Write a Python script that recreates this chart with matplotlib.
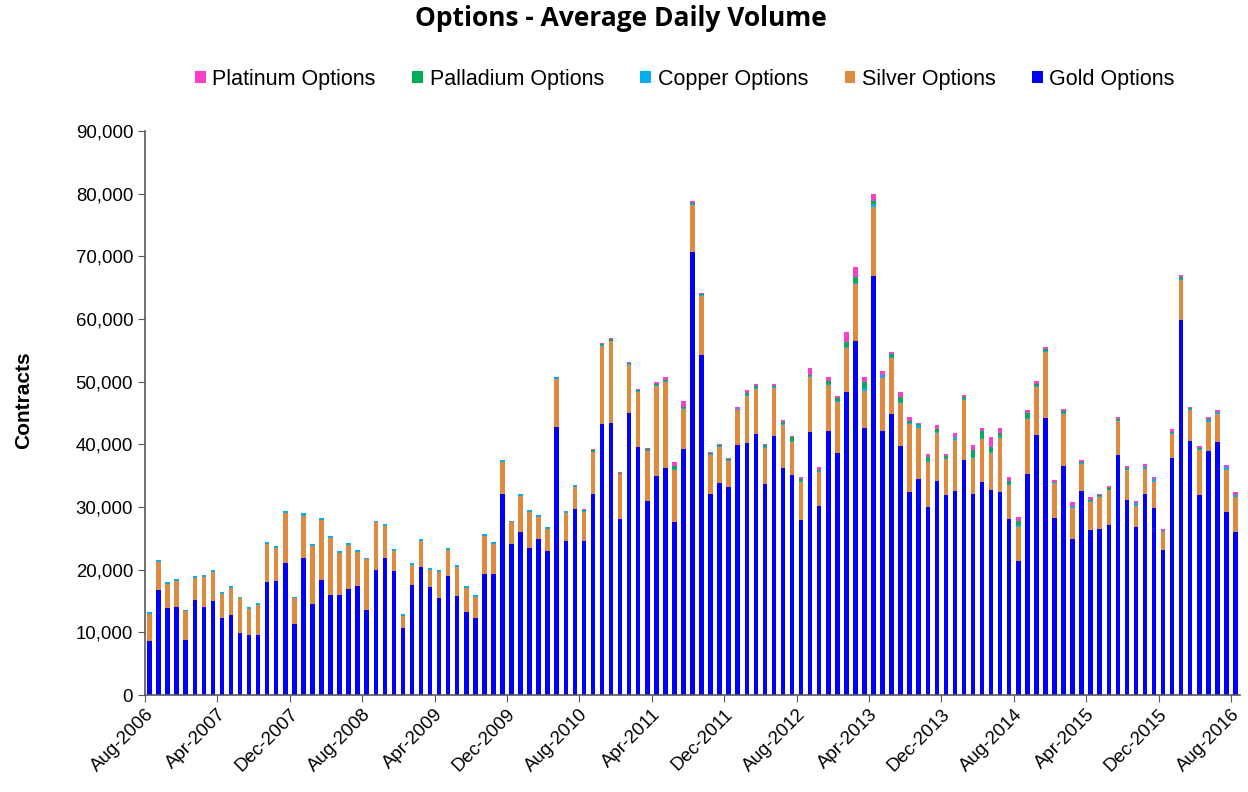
import matplotlib
matplotlib.use("Agg")
import matplotlib.pyplot as plt
import numpy as np
import pandas as pd
from matplotlib.ticker import StrMethodFormatter

# monthly average daily volume, Aug-2006 .. Aug-2016 (121 months)
months = pd.date_range("2006-08-01", "2016-08-01", freq="MS")
month_labels = [m.strftime("%b-%Y") for m in months]

gold = [
    8560, 16700, 13940, 14100, 8780, 15210, 14100, 15000, 12230, 12770,
    9950, 9630, 9630, 18080, 18240, 21060, 11380, 21910, 14470, 18400,
    16010, 16010, 16910, 17450, 13620, 20000, 21910, 19840, 10640, 17610,
    20480, 17230, 15530, 18940, 15850, 13300, 12340, 19360, 19360, 32130,
    24150, 26060, 23510, 24840, 22980, 42820, 24630, 29730, 24630, 32130,
    43190, 43400, 28140, 44950, 39630, 30900, 34890, 36280, 27660, 39200,
    70740, 54310, 32130, 33880, 33140, 39940, 40250, 41630, 33680, 41290,
    36200, 35030, 27920, 42020, 30160, 42190, 38660, 48400, 56410, 42640,
    66930, 42190, 44880, 39790, 32450, 34470, 30050, 34200, 31970, 32600,
    37500, 32130, 34040, 32770, 32450, 28080, 21380, 35260, 41490, 44250,
    28300, 36600, 24840, 32600, 26380, 26540, 27070, 38350, 31120, 26750,
    32130, 29890, 23140, 37870, 59840, 40580, 31970, 38880, 40420, 29150,
    26060,
]

silver = [
    4440, 4540, 3790, 4060, 4590, 3480, 4800, 4640, 3910, 4370,
    5540, 4160, 4800, 6030, 5290, 8050, 4060, 6730, 9320, 9590,
    9060, 6670, 6990, 5390, 8040, 7570, 5080, 3210, 1990, 3200,
    4060, 2680, 4120, 4240, 4540, 3740, 3370, 6080, 4700, 5070,
    3420, 5770, 5760, 3530, 3430, 7620, 4430, 3530, 4600, 6620,
    12580, 13010, 7050, 7740, 8690, 8060, 14380, 13640, 8250, 6410,
    7480, 9340, 6150, 5730, 4230, 5470, 7540, 7270, 5700, 7640,
    6960, 5330, 6070, 8690, 5380, 7300, 8080, 6970, 9250, 5940,
    10890, 8400, 8870, 6870, 10750, 8130, 7080, 7620, 5700, 8100,
    9580, 5750, 6810, 5910, 8510, 5380, 5430, 8850, 7600, 10460,
    5490, 8170, 5060, 4220, 4370, 5120, 5590, 5390, 4800, 3420,
    3940, 4160, 2840, 3740, 6390, 4960, 7190, 4740, 4420, 6760,
    5490,
]

copper = [
    250, 300, 250, 350, 250, 300, 300, 250, 300, 250,
    200, 250, 300, 250, 300, 300, 250, 350, 250, 250,
    300, 300, 300, 300, 250, 250, 300, 250, 300, 250,
    300, 300, 350, 250, 300, 300, 300, 250, 300, 250,
    200, 300, 250, 300, 350, 250, 250, 250, 150, 100,
    150, 150, 150, 200, 150, 150, 150, 150, 150, 150,
    150, 150, 150, 150, 150, 150, 150, 150, 150, 150,
    150, 150, 150, 150, 280, 150, 150, 150, 150, 330,
    530, 450, 200, 150, 150, 500, 150, 150, 150, 420,
    150, 150, 210, 150, 150, 210, 320, 150, 210, 150,
    150, 200, 210, 210, 270, 100, 100, 200, 150, 420,
    270, 370, 150, 150, 150, 100, 150, 270, 270, 420,
    320,
]

palladium = [
    0, 0, 0, 0, 0, 0, 0, 0, 0, 0,
    0, 0, 0, 0, 0, 0, 0, 0, 0, 0,
    0, 0, 0, 0, 0, 0, 0, 0, 0, 0,
    0, 0, 0, 0, 0, 0, 0, 0, 0, 0,
    0, 0, 0, 0, 0, 0, 0, 0, 150, 250,
    100, 200, 100, 100, 150, 100, 150, 200, 480, 150,
    200, 200, 150, 200, 150, 150, 200, 330, 330, 220,
    280, 670, 330, 280, 100, 390, 450, 780, 900, 1000,
    530, 100, 400, 690, 420, 100, 640, 530, 370, 100,
    270, 1060, 1060, 800, 640, 530, 690, 690, 320, 300,
    100, 400, 100, 100, 100, 100, 320, 100, 100, 100,
    100, 100, 100, 210, 370, 160, 100, 100, 100, 100,
    100,
]

platinum = [
    0, 0, 0, 0, 0, 0, 0, 0, 0, 0,
    0, 0, 0, 0, 0, 0, 0, 0, 0, 0,
    0, 0, 0, 0, 0, 0, 0, 0, 0, 0,
    0, 0, 0, 0, 0, 0, 0, 0, 0, 0,
    0, 0, 0, 0, 0, 0, 0, 0, 150, 150,
    150, 150, 200, 150, 150, 200, 370, 530, 640, 1000,
    300, 150, 200, 150, 150, 250, 560, 250, 200, 330,
    280, 170, 330, 1120, 390, 670, 390, 1620, 1620, 840,
    1100, 560, 450, 850, 530, 200, 480, 530, 210, 640,
    370, 800, 480, 1540, 800, 530, 530, 530, 480, 320,
    320, 210, 530, 320, 480, 270, 270, 270, 320, 270,
    370, 270, 210, 420, 270, 160, 320, 320, 270, 270,
    370,
]

series = [
    ("Gold Options", gold, "#0000FF"),
    ("Silver Options", silver, "#DF8A3F"),
    ("Copper Options", copper, "#00B0F0"),
    ("Palladium Options", palladium, "#00B050"),
    ("Platinum Options", platinum, "#FF3DCC"),
]

plt.rcParams["font.family"] = ["Liberation Sans", "DejaVu Sans"]

fig = plt.figure(figsize=(12.48, 7.92), dpi=100)
ax = fig.add_axes([145 / 1248, 97 / 792, 1095 / 1248, 564 / 792])

x = np.arange(len(months))
bottom = np.zeros(len(months))
handles = []
for name, vals, color in series:
    vals = np.asarray(vals, dtype=float)
    h = ax.bar(x, vals, width=0.5, bottom=bottom, color=color, label=name, linewidth=0)
    handles.append(h)
    bottom += vals

ax.set_xlim(-0.5, len(months) - 0.5)
ax.set_ylim(0, 90000)
ax.set_yticks(np.arange(0, 90001, 10000))
ax.yaxis.set_major_formatter(StrMethodFormatter("{x:,.0f}"))

tick_idx = np.arange(0, len(months), 8)
ax.set_xticks(tick_idx - 0.5)
ax.set_xticklabels([month_labels[i] for i in tick_idx], rotation=45, ha="right",
                   rotation_mode="anchor")

for side in ("top", "right"):
    ax.spines[side].set_visible(False)
for side in ("left", "bottom"):
    ax.spines[side].set_color("#595959")
    ax.spines[side].set_linewidth(1.2)
ax.tick_params(axis="both", direction="out", length=5, color="#595959",
               labelsize=13.4, labelcolor="black")
ax.tick_params(axis="x", pad=3)

ax.set_ylabel("Contracts", fontsize=15, fontweight="bold")
ax.yaxis.set_label_coords(-112 / 1095, (695 - 400) / 564)

fig.text(621 / 1248, 1 - 19 / 792, "Options - Average Daily Volume", ha="center", va="center",
         fontsize=19, fontweight="bold", family=["Open Sans", "DejaVu Sans"])

fig.legend(handles[::-1], [s[0] for s in series][::-1], loc="center",
           bbox_to_anchor=(685 / 1248, 1 - 79 / 792), ncol=5, frameon=False,
           fontsize=15.5, handlelength=0.5, handleheight=0.5, handletextpad=0.3,
           columnspacing=1.7)

fig.savefig("out.png", dpi=100)
